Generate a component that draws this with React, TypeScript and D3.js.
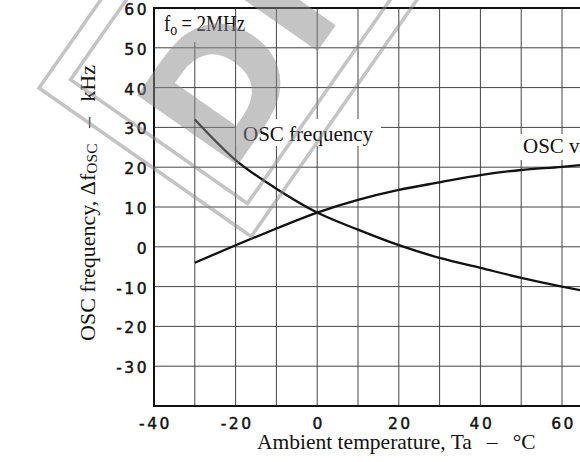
import React from "react";
import * as d3 from "d3";

const temps = [-30, -20, -10, 0, 10, 20, 30, 40, 50, 60, 65];
const oscFrequency = [32, 21.8, 14.6, 8.6, 4.3, 0.4, -2.8, -5.3, -7.8, -10, -11];
const oscVoltage = [-4, 0.4, 4.6, 8.6, 11.8, 14.3, 16.2, 18, 19.3, 20.1, 20.6];
const xGrid = [-30, -20, -10, 0, 10, 20, 30, 40, 50, 60, 70];
const yGrid = [-30, -20, -10, 0, 10, 20, 30, 40, 50];
const xTickLabels = [-40, -20, 0, 20, 40, 60];
const yTickLabels = [60, 50, 40, 30, 20, 10, 0, -10, -20, -30];

const W = 580;
const H = 462;

export default function App() {
  const x = d3.scaleLinear().domain([-40, 60]).range([154, 562]);
  const y = d3.scaleLinear().domain([-40, 60]).range([406, 8]);
  const line = d3
    .line<[number, number]>()
    .x((d) => x(d[0]))
    .y((d) => y(d[1]))
    .curve(d3.curveMonotoneX);
  const freqPath = line(temps.map((t, i) => [t, oscFrequency[i]]) as [number, number][]) || "";
  const voltPath = line(temps.map((t, i) => [t, oscVoltage[i]]) as [number, number][]) || "";
  const serif = "'Liberation Serif', 'Times New Roman', serif";
  const sans = "'DejaVu Sans', sans-serif";
  const wm = "#8a8a8a";
  const fmt = (v: number) => (v < 0 ? "-" + Math.abs(v) : String(v));

  return (
    <div style={{ position: "absolute", left: 0, top: 0 }}>
      <svg width={W} height={H} style={{ display: "block", background: "#fff" }}>
        <rect width={W} height={H} fill="#fff" />
        {/* grid */}
        {xGrid.map((v) => (
          <line key={"vx" + v} x1={x(v)} x2={x(v)} y1={y(60)} y2={y(-40)} stroke="#444" strokeWidth={1} />
        ))}
        {yGrid.map((v) => (
          <line key={"hy" + v} x1={x(-40)} x2={W + 40} y1={y(v)} y2={y(v)} stroke="#444" strokeWidth={1} />
        ))}
        {/* frame */}
        <line x1={x(-40)} x2={W + 40} y1={y(60)} y2={y(60)} stroke="#111" strokeWidth={2} />
        <line x1={x(-40)} x2={W + 40} y1={y(-40)} y2={y(-40)} stroke="#111" strokeWidth={2} />
        <line x1={x(-40)} x2={x(-40)} y1={y(60) - 1} y2={y(-40) + 1} stroke="#111" strokeWidth={2} />

        {/* label backgrounds */}
        <rect x={157} y={10} width={77} height={32} fill="#fff" />
        <rect x={236} y={119} width={145} height={27} fill="#fff" />
        <rect x={518} y={134} width={70} height={26} fill="#fff" />

        {/* curves */}
        <path d={freqPath} fill="none" stroke="#111" strokeWidth={2.3} />
        <path d={voltPath} fill="none" stroke="#111" strokeWidth={2.3} />

        {/* curve labels */}
        <text transform="translate(164,31) scale(1,1.2)" fontFamily={serif} fontSize={19} fill="#111">
          f<tspan fontSize={14} dy={3}>o</tspan>
          <tspan dy={-3}>{"\u2009= 2MHz"}</tspan>
        </text>
        <text x={243} y={141} fontFamily={serif} fontSize={21} fill="#111">
          OSC frequency
        </text>
        <text x={523} y={153} fontFamily={serif} fontSize={21} fill="#111">
          OSC voltage
        </text>

        {/* tick labels */}
        {yTickLabels.map((v) => (
          <text
            key={"yl" + v}
            x={149}
            y={y(v) + 7}
            textAnchor="end"
            fontFamily={sans}
            fontSize={15.5}
            letterSpacing={2.5}
            fill="#111"
            stroke="#111"
            strokeWidth={0.45}
          >
            {fmt(v)}
          </text>
        ))}
        {xTickLabels.map((v) => (
          <text
            key={"xl" + v}
            x={x(v) + 1.5}
            y={429}
            textAnchor="middle"
            fontFamily={sans}
            fontSize={15.5}
            letterSpacing={2.5}
            fill="#111"
            stroke="#111"
            strokeWidth={0.45}
          >
            {fmt(v)}
          </text>
        ))}

        {/* axis titles */}
        <text x={257} y={449} fontFamily={serif} fontSize={21.5} fill="#111">
          {"Ambient temperature, Ta\u2002\u2009\u2013\u2002\u2009\u00b0C"}
        </text>
        <text
          transform="translate(95,203) rotate(-90)"
          textAnchor="middle"
          fontFamily={serif}
          fontSize={22}
          fill="#111"
        >
          {"OSC frequency, \u0394f"}
          <tspan fontSize={15.5} dy={2}>OSC</tspan>
          <tspan dy={-2}>{"\u2002\u2009\u2013\u2002\u2009kHz"}</tspan>
        </text>

        {/* watermark */}
        <g transform="translate(39,88) rotate(-55)" opacity={0.5}>
          <rect x={0} y={0} width={700} height={259} fill="none" stroke={wm} strokeWidth={3.5} />
          <rect x={25} y={21} width={650} height={216} fill="none" stroke={wm} strokeWidth={3.5} />
          <text x={35} y={207} fontFamily={sans} fontWeight="bold" fontSize={168} fill={wm}>
            DISCONTINUED
          </text>
        </g>
      </svg>
    </div>
  );
}
